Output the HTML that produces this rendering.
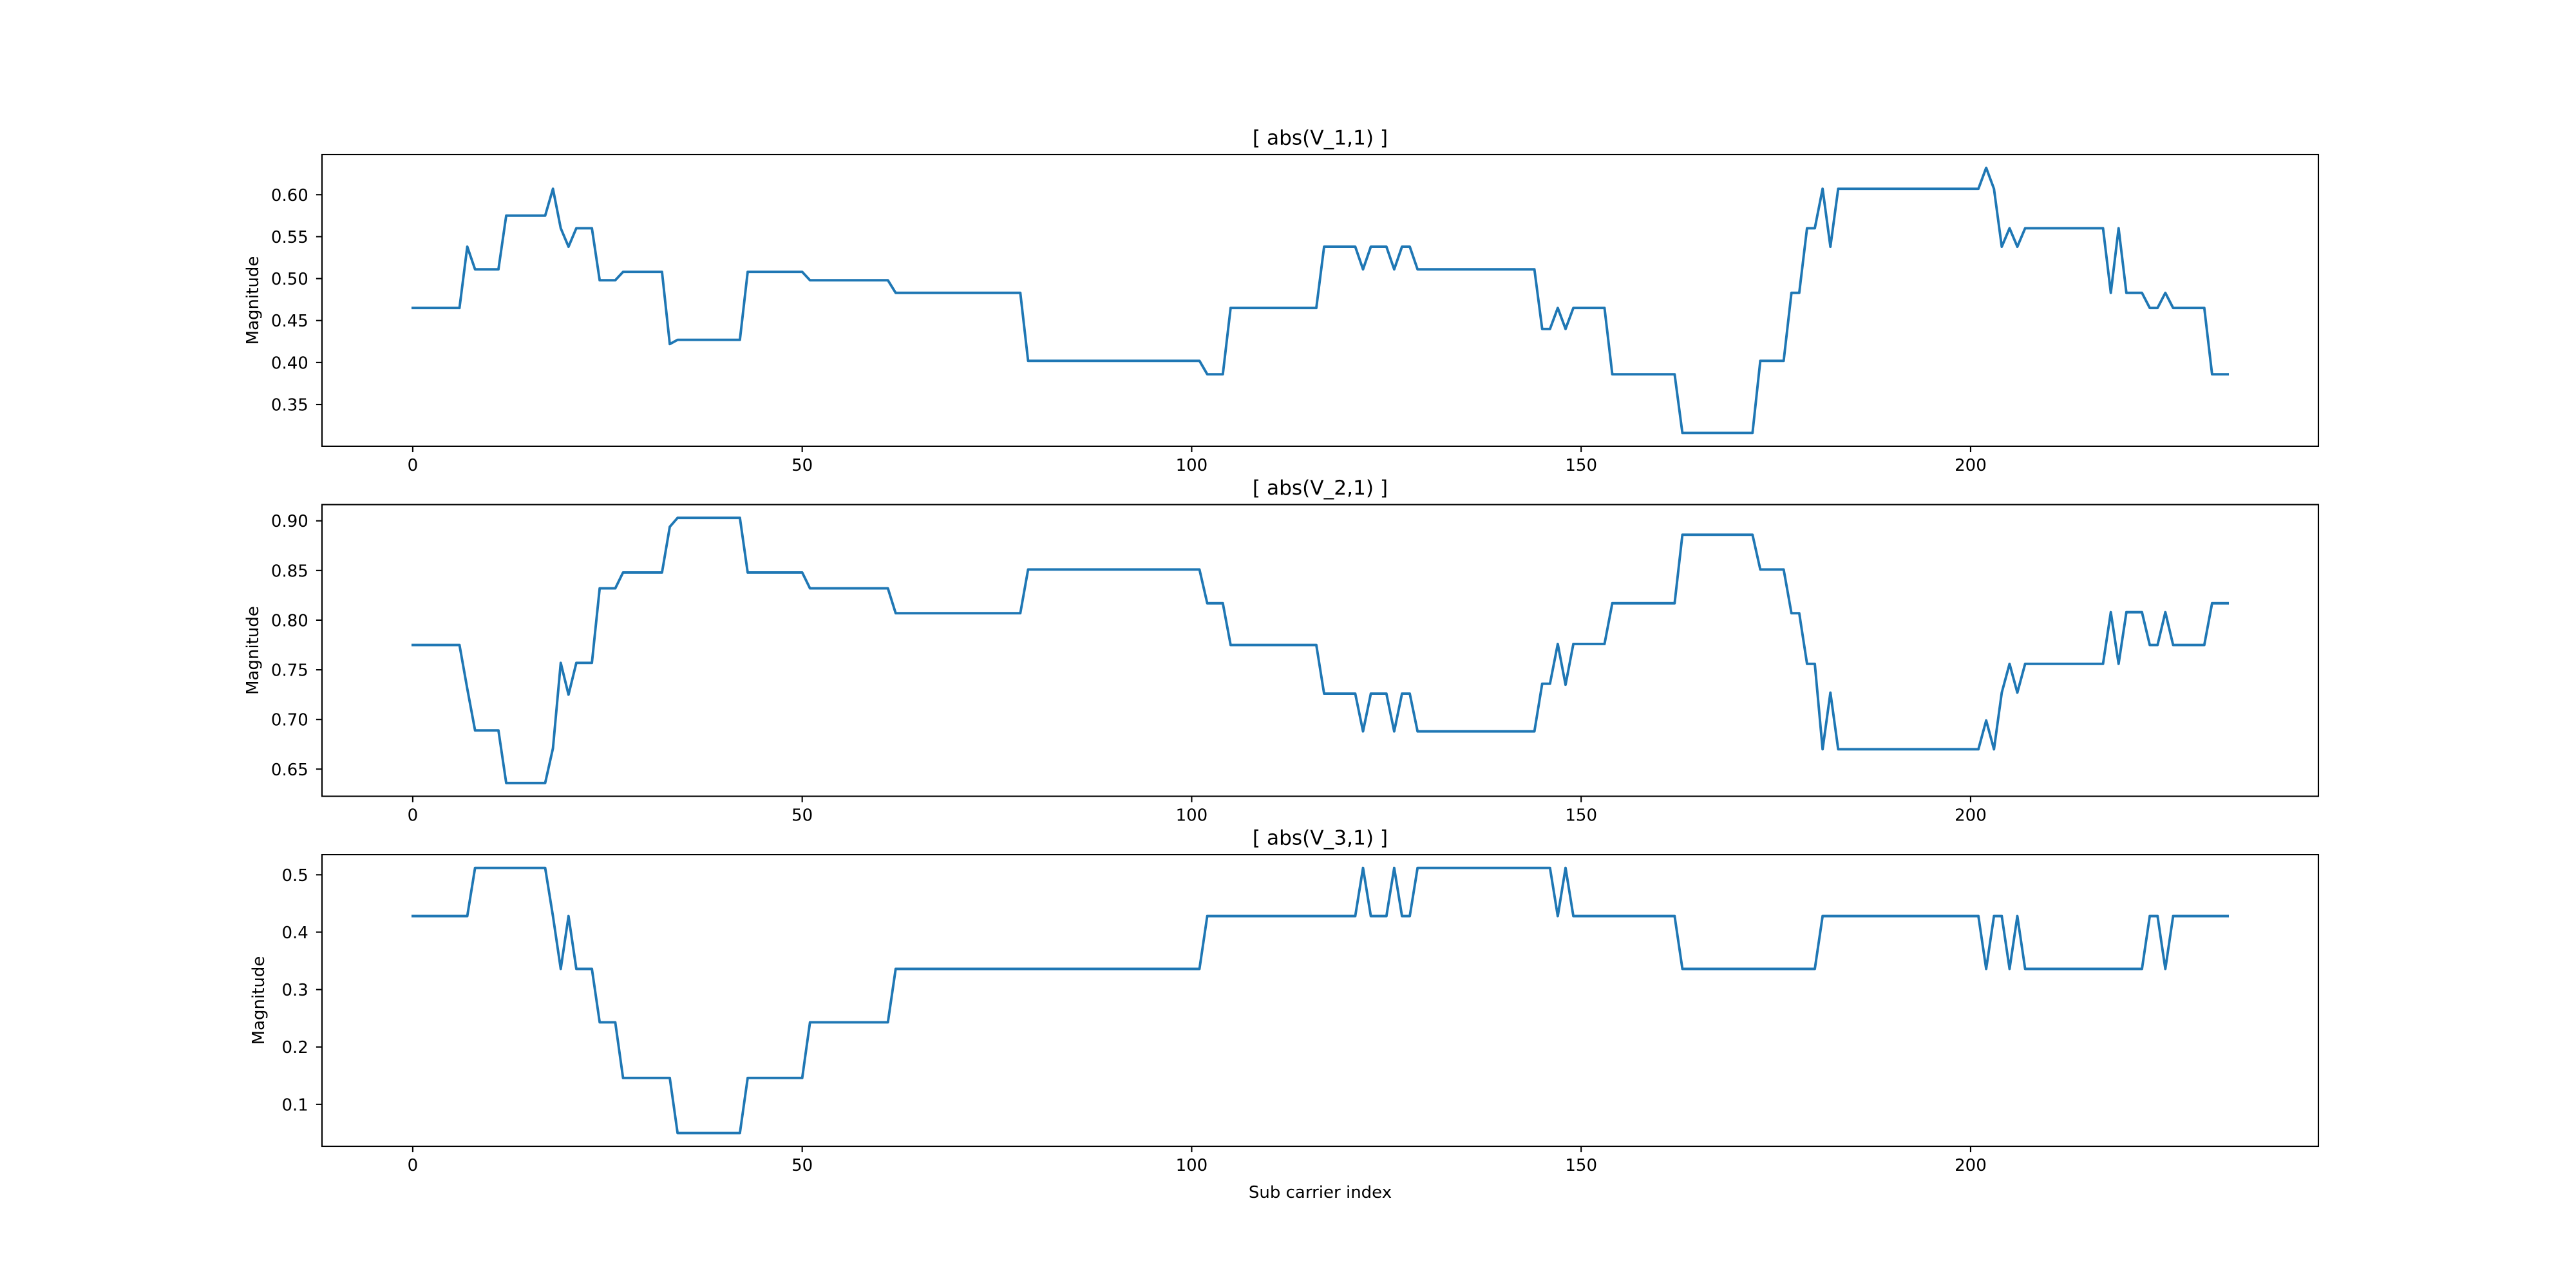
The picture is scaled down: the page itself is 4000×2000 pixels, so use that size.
<!DOCTYPE html>
<html><head><meta charset="utf-8"><style>
body{margin:0;background:#fff}
svg{display:block;font-family:"DejaVu Sans","Liberation Sans",sans-serif}
</style></head><body>
<svg id="fig" width="4000" height="2000" viewBox="0 0 4000 2000" xmlns="http://www.w3.org/2000/svg">
<rect width="4000" height="2000" fill="#fff"/>
</svg>
<script>
// Run-length data: [start index, value]; series spans indices 0..233
const lastIndex = 233;
const runsV1 = [[0,.465],[7,.538],[8,.511],[12,.575],[18,.607],[19,.56],[20,.538],[21,.56],[24,.498],[27,.508],[33,.422],[34,.427],[43,.508],[51,.498],[62,.483],[79,.402],[102,.386],[105,.465],[117,.538],[122,.511],[123,.538],[126,.511],[127,.538],[129,.511],[145,.44],[147,.465],[148,.44],[149,.465],[154,.386],[163,.316],[173,.402],[177,.483],[179,.56],[181,.607],[182,.538],[183,.607],[202,.632],[203,.607],[204,.538],[205,.56],[206,.538],[207,.56],[218,.483],[219,.56],[220,.483],[223,.465],[225,.483],[226,.465],[231,.386]];
const runsV2 = [[0,.775],[7,.731],[8,.689],[12,.636],[18,.671],[19,.757],[20,.725],[21,.757],[24,.832],[27,.848],[33,.894],[34,.903],[43,.848],[51,.832],[62,.807],[79,.851],[102,.817],[105,.775],[117,.726],[122,.688],[123,.726],[126,.688],[127,.726],[129,.688],[145,.736],[147,.776],[148,.735],[149,.776],[154,.817],[163,.886],[173,.851],[177,.807],[179,.756],[181,.670],[182,.727],[183,.670],[202,.699],[203,.670],[204,.727],[205,.756],[206,.727],[207,.756],[218,.808],[219,.756],[220,.808],[223,.775],[225,.808],[226,.775],[231,.817]];
const runsV3 = [[0,.428],[8,.512],[18,.428],[19,.336],[20,.428],[21,.336],[24,.243],[27,.146],[34,.05],[43,.146],[51,.243],[62,.336],[102,.428],[122,.512],[123,.428],[126,.512],[127,.428],[129,.512],[147,.428],[148,.512],[149,.428],[163,.336],[181,.428],[202,.336],[203,.428],[205,.336],[206,.428],[207,.336],[223,.428],[225,.336],[226,.428]];
const titles = ["[ abs(V_1,1) ]","[ abs(V_2,1) ]","[ abs(V_3,1) ]"];
const xTicks = [0,50,100,150,200];
const yTicks1 = ["0.35","0.40","0.45","0.50","0.55","0.60"];
const yTicks2 = ["0.65","0.70","0.75","0.80","0.85","0.90"];
const yTicks3 = ["0.1","0.2","0.3","0.4","0.5"];

const NS="http://www.w3.org/2000/svg";
const svg=document.getElementById('fig');
function mk(tag,attrs,parent){const e=document.createElementNS(NS,tag);for(const k in attrs)e.setAttribute(k,attrs[k]);(parent||svg).appendChild(e);return e;}
function expand(runs){const out=[];for(let r=0;r<runs.length;r++){const end=r+1<runs.length?runs[r+1][0]:lastIndex+1;for(let i=runs[r][0];i<end;i++)out.push(runs[r][1]);}return out;}

const L=500,R=3600,H=452.94,gap=90.59,T0=240;
const FS=26,TFS=31.2,TL=9.1,PAD=9.1;
const xmin=-lastIndex*0.05,xmax=lastIndex*1.05;
const xs=v=>L+(v-xmin)/(xmax-xmin)*(R-L);
const all=[[runsV1,yTicks1],[runsV2,yTicks2],[runsV3,yTicks3]];
all.forEach(([runs,yt],k)=>{
  const top=T0+k*(H+gap),bot=top+H;
  const data=expand(runs);
  const mn=Math.min(...data),mx=Math.max(...data),pad=(mx-mn)*0.05;
  const y0=mn-pad,y1=mx+pad;
  const ys=v=>bot-(v-y0)/(y1-y0)*H;
  const g=mk('g',{});
  
  
  const t=mk('text',{x:(L+R)/2,y:top-15.6,'text-anchor':'middle','font-size':TFS,fill:'#000'},g);
  t.textContent=titles[k];
  
  
  let d='';data.forEach((v,i)=>{d+=(i?'L':'M')+xs(i).toFixed(2)+' '+ys(v).toFixed(2);});
  const p=mk('path',{d:d,fill:'none',stroke:'#1f77b4','stroke-width':3.9,'stroke-linejoin':'round','stroke-linecap':'square'},g);
  
  
  xTicks.forEach(v=>{
    const x=xs(v);
    mk('line',{x1:x,x2:x,y1:bot,y2:bot+TL,stroke:'#000','stroke-width':2.1},g);
    const tl=mk('text',{x:x,y:bot+TL+PAD+20,'text-anchor':'middle','font-size':FS,fill:'#000'},g);
    tl.textContent=v;
    
    
  });
  yt.forEach(s=>{
    const y=ys(parseFloat(s));
    mk('line',{x1:L,x2:L-TL,y1:y,y2:y,stroke:'#000','stroke-width':2.1},g);
    const tl=mk('text',{x:L-TL-PAD-3,y:y+9.5,'text-anchor':'end','font-size':FS,fill:'#000'},g);
    tl.textContent=s;
    
    
  });
  const yl=mk('text',{x:0,y:0,'text-anchor':'middle','font-size':FS,fill:'#000',transform:`translate(${k==2?410:401},${(top+bot)/2}) rotate(-90)`},g);
  yl.textContent='Magnitude';
  
  
  const fr=mk('rect',{x:L,y:top,width:R-L,height:H,fill:'none',stroke:'#000','stroke-width':2.1},g);
  
  
});
const xl=mk('text',{x:(L+R)/2,y:1860,'text-anchor':'middle','font-size':FS,fill:'#000'});
xl.textContent='Sub carrier index';


</script>
</body></html>
